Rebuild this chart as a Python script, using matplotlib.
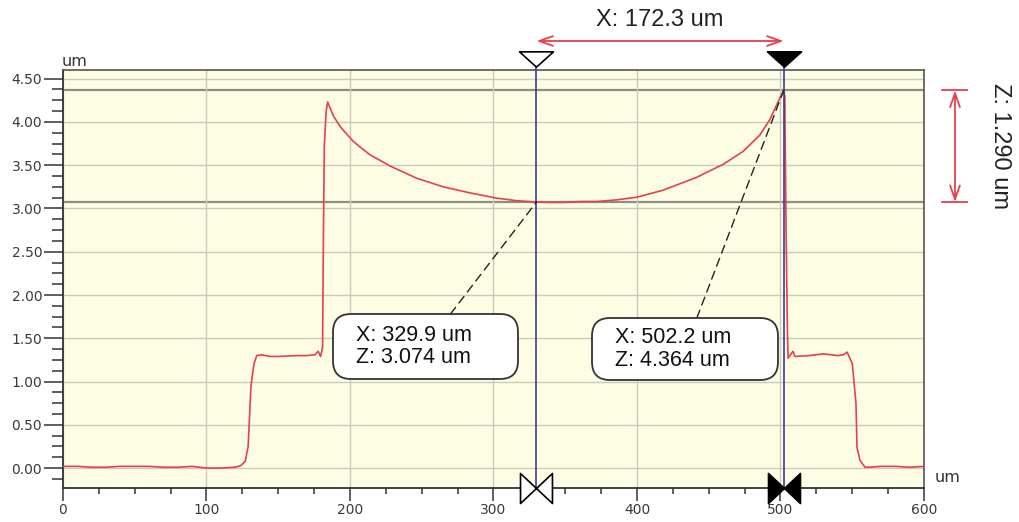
import matplotlib
matplotlib.use('Agg')
import matplotlib.pyplot as plt
import matplotlib.patches as mpatches
import matplotlib.transforms as mtransforms
from matplotlib.path import Path
from matplotlib.ticker import MultipleLocator, FormatStrFormatter

# Profile trace (x in um, z in um)
profile_x = [0, 10, 20, 30, 40, 50, 60, 70, 80, 90, 100, 110, 120, 124, 127, 129, 130, 131, 133,
             135, 138.5, 144, 150, 163, 170, 175.6, 177.8, 179.5, 180.9, 181.4, 182.1, 183.3, 184.4,
             188.4, 193, 197.7, 202, 207, 214, 228, 246.4, 265, 283.6, 302, 316, 329.9, 340, 348.7,
             360, 372, 386, 399.8, 418, 441.6, 460, 474, 485.7, 492.7, 498.5, 502.2, 503.0, 503.3,
             504.0, 504.8, 505.3, 506.5, 508.7, 510, 520, 530, 540, 544, 546.4, 550, 552.6, 553.3,
             555.4, 558.9, 562, 570, 580, 590, 600]
profile_z = [0.02, 0.02, 0.01, 0.01, 0.02, 0.02, 0.02, 0.01, 0.01, 0.02, 0.00, 0.00, 0.01, 0.03,
             0.08, 0.25, 0.60, 0.95, 1.20, 1.30, 1.31, 1.29, 1.29, 1.30, 1.30, 1.31, 1.35, 1.29,
             1.40, 2.56, 3.72, 4.11, 4.23, 4.07, 3.95, 3.86, 3.78, 3.71, 3.62, 3.49, 3.35, 3.25,
             3.18, 3.12, 3.09, 3.074, 3.07, 3.07, 3.08, 3.08, 3.10, 3.13, 3.21, 3.36, 3.51, 3.66,
             3.85, 4.03, 4.24, 4.364, 4.30, 3.70, 2.60, 1.60, 1.27, 1.30, 1.35, 1.29, 1.30, 1.32,
             1.30, 1.31, 1.34, 1.21, 0.75, 0.24, 0.09, 0.01, 0.01, 0.02, 0.02, 0.01, 0.02]

# Measurement cursors
cursor_x = [329.9, 502.2]
cursor_z = [3.074, 4.364]
cursor_filled = [False, True]
delta_x = 172.3
delta_z = 1.290

W, H = 1020, 522
fig = plt.figure(figsize=(W / 100, H / 100), dpi=100)
ax = fig.add_axes([63 / W, 1 - 488 / H, (924 - 63) / W, (488 - 70) / H])
ax.set_facecolor('#fdfde4')

# pixel coordinates (origin bottom-left) for the overlay bits
pix = mtransforms.Affine2D().scale(1 / W, 1 / H) + fig.transFigure

ax.set_xlim(0, 600)
ax.set_ylim(-0.23, 4.60)
ax.xaxis.set_major_locator(MultipleLocator(100))
ax.xaxis.set_minor_locator(MultipleLocator(25))
ax.yaxis.set_major_locator(MultipleLocator(0.5))
ax.yaxis.set_minor_locator(MultipleLocator(0.125))
ax.yaxis.set_major_formatter(FormatStrFormatter('%.2f'))

ax.grid(True, which='major', color='#cacabc', lw=1.0)
for z in cursor_z:
    ax.axhline(z, color='#8c8c88', lw=1.6, zorder=1.5)

ax.tick_params(axis='y', which='major', length=14, width=1.1, pad=1, labelsize=10,
               labelcolor='#3a3a3a', color='#333333')
ax.tick_params(axis='y', which='minor', length=8, width=1.1, color='#333333')
ax.tick_params(axis='x', which='major', length=9, width=1.1, pad=1.5, labelsize=10,
               labelcolor='#3a3a3a', color='#333333')
ax.tick_params(axis='x', which='minor', length=4, width=1.1, color='#333333')
for side in ['left', 'bottom']:
    ax.spines[side].set_color('#333333')
    ax.spines[side].set_linewidth(1.3)
for side in ['top', 'right']:
    ax.spines[side].set_color('#555555')
    ax.spines[side].set_linewidth(1.2)

ax.plot(profile_x, profile_z, color='#e6404c', lw=1.2, zorder=3)

# cursor lines and their markers
tri = Path([(-1, 0.45), (1, 0.45), (0, -0.45), (-1, 0.45)],
           [Path.MOVETO, Path.LINETO, Path.LINETO, Path.CLOSEPOLY])
bowtie = Path([(-1, 0.94), (0, 0), (-1, -0.94), (-1, 0.94),
               (1, 0.94), (0, 0), (1, -0.94), (1, 0.94)],
              [Path.MOVETO, Path.LINETO, Path.LINETO, Path.CLOSEPOLY] * 2)
top_trans = mtransforms.blended_transform_factory(ax.transData, pix)
for x, filled in zip(cursor_x, cursor_filled):
    ax.axvline(x, ymin=0, ymax=1.01, color='#3a3a9a', lw=1.2, clip_on=False, zorder=4)
    fc = 'black' if filled else 'white'
    ax.plot([x], [H - 58.5], marker=tri, ms=24.5, mfc=fc, mec='black', mew=1.2,
            transform=top_trans, clip_on=False, zorder=6)
    ax.plot([x], [0], marker=bowtie, ms=23, mfc=fc, mec='black', mew=1.2,
            transform=ax.get_xaxis_transform(), clip_on=False, zorder=6)

# axis unit labels
fig.text(62 / W, 1 - 61 / H, 'um', fontsize=11.5, color='#333333', va='center', ha='left')
fig.text(935 / W, 1 - 478 / H, 'um', fontsize=11.5, color='#333333', va='center', ha='left')

afont = 'Liberation Sans'

# horizontal distance between cursors
ax.annotate('', xy=(cursor_x[1], H - 41), xytext=(cursor_x[0], H - 41),
            xycoords=('data', 'figure pixels'), textcoords=('data', 'figure pixels'),
            arrowprops=dict(arrowstyle='<->,head_length=1.0,head_width=0.35', color='#e6404c',
                            lw=1.3, shrinkA=0, shrinkB=0), annotation_clip=False)
ax.text((cursor_x[0] + cursor_x[1]) / 2, H - 20, 'X: %.1f um' % delta_x,
        transform=top_trans, ha='center', va='center', fontsize=17, family=afont,
        color='#222222')

# vertical distance between cursors
zx = 955
ax.annotate('', xy=(zx, cursor_z[1]), xytext=(zx, cursor_z[0]),
            xycoords=('figure pixels', 'data'), textcoords=('figure pixels', 'data'),
            arrowprops=dict(arrowstyle='<->,head_length=1.0,head_width=0.35', color='#e6404c',
                            lw=1.3, shrinkA=0, shrinkB=0), annotation_clip=False)
side_trans = mtransforms.blended_transform_factory(pix, ax.transData)
for z in cursor_z:
    ax.plot([zx - 12.5, zx + 12.5], [z, z], color='#e6404c', lw=1.3,
            transform=side_trans, clip_on=False)
ax.text(1000, (cursor_z[0] + cursor_z[1]) / 2, 'Z: %.3f um' % delta_z, transform=side_trans,
        rotation=270, ha='center', va='center', fontsize=17, family=afont, color='#222222')

# callout boxes (left, top, right, bottom in pixels from top-left) with leader lines
boxes = [(333, 314, 518, 379), (592, 318, 778, 380)]
for (x0, y0, x1, y1), cx, cz in zip(boxes, cursor_x, cursor_z):
    box = mpatches.FancyBboxPatch((x0, H - y1), x1 - x0, y1 - y0,
                                  boxstyle='round,pad=0,rounding_size=18',
                                  transform=pix, fc='white', ec='#333333', lw=1.3, zorder=7)
    fig.add_artist(box)
    fig.text((x0 + 23) / W, 1 - (y0 + y1) / 2 / H, 'X: %.1f um\nZ: %.3f um' % (cx, cz),
             fontsize=15.5, family=afont, color='#111111', va='center', ha='left',
             linespacing=1.1, zorder=8)
    # leader from the box top toward the cursor point
    bx = (x0 + x1) / 2
    by = (y0 + y1) / 2
    px_pt = ax.transData.transform((cx, cz))
    t = ((H - y0) - (H - by)) / (px_pt[1] - (H - by))
    ex = bx + (px_pt[0] - bx) * t
    ax.annotate('', xy=(cx, cz), xytext=(ex, H - y0), textcoords='figure pixels',
                arrowprops=dict(arrowstyle='-', ls=(0, (6, 4)), color='#222222', lw=1.0,
                                shrinkA=0, shrinkB=0), annotation_clip=False, zorder=5)

fig.savefig('out.png', dpi=100)
